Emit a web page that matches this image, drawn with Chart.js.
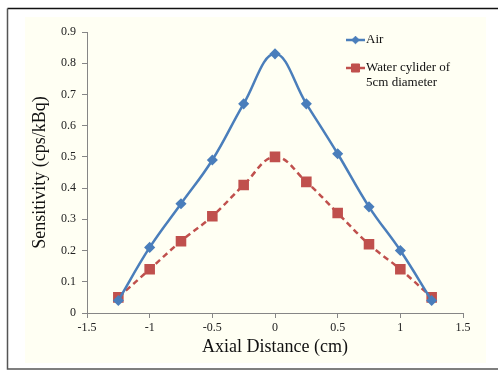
<!DOCTYPE html>
<html>
<head>
<meta charset="utf-8">
<script src="https://cdn.jsdelivr.net/npm/chart.js@4.4.0/dist/chart.umd.min.js"></script>
<style>
  html, body { margin: 0; padding: 0; background: #fff; overflow: hidden; }
  #wrap { width: 498px; height: 371px; position: relative; }
</style>
</head>
<body>
<div id="wrap"><canvas id="sensChart" width="498" height="371"></canvas></div>
<script>
// axial positions (cm)
var distances = [-1.25, -1, -0.75, -0.5, -0.25, 0, 0.25, 0.5, 0.75, 1, 1.25];
// sensitivity (cps/kBq)
var airValues = [0.04, 0.21, 0.35, 0.49, 0.67, 0.83, 0.67, 0.51, 0.34, 0.20, 0.04];
var waterValues = [0.05, 0.14, 0.23, 0.31, 0.41, 0.50, 0.42, 0.32, 0.22, 0.14, 0.05];
var seriesNames = ["Air", ["Water cylider of", "5cm diameter"]];

var serif = "'Liberation Serif', 'Times New Roman', serif";

var toPoints = function(vals) {
  return distances.map(function(d, i) { return { x: d, y: vals[i] }; });
};

//frame (top/left/bottom only, right side is cut off) + cream background
var framePlugin = {
  id: 'frame',
  beforeDraw: function(chart) {
    var ctx = chart.ctx;
    ctx.save();
    ctx.fillStyle = '#fff';
    ctx.fillRect(0, 0, chart.width, chart.height);
    ctx.fillStyle = '#fffff3';
    ctx.fillRect(25, 17, 461, 346);
    ctx.lineWidth = 1.5;
    ctx.strokeStyle = '#111';
    ctx.beginPath();
    ctx.moveTo(7.5, 8.5);
    ctx.lineTo(498, 8.5);
    ctx.stroke();
    ctx.strokeStyle = '#555';
    ctx.beginPath();
    ctx.moveTo(7.5, 8.5);
    ctx.lineTo(7.5, 369);
    ctx.lineTo(498, 369);
    ctx.stroke();
    ctx.restore();
  }
};

//legend inside the plot, like the excel one
var legendPlugin = {
  id: 'insideLegend',
  afterDraw: function(chart) {
    var ctx = chart.ctx;
    var rows = [40, 68];
    ctx.save();
    chart.data.datasets.forEach(function(ds, i) {
      var y = rows[i];
      ctx.strokeStyle = ds.borderColor;
      ctx.lineWidth = 2.5;
      ctx.setLineDash([]);
      ctx.beginPath();
      ctx.moveTo(346, y);
      ctx.lineTo(365, y);
      ctx.stroke();
      ctx.fillStyle = ds.pointBackgroundColor;
      ctx.lineWidth = 1;
      Chart.helpers.drawPoint(ctx, {
        pointStyle: ds.pointStyle,
        radius: ds.pointRadius,
        borderWidth: 1
      }, 355.5, y);
      ctx.fillStyle = '#111';
      ctx.font = '13px ' + serif;
      ctx.textBaseline = 'middle';
      var lines = [].concat(seriesNames[i]);
      lines.forEach(function(t, k) {
        ctx.fillText(t, 366, y + k * 15);
      });
    });
    ctx.restore();
  }
};

var trimNum = function(v) { return String(Math.round(v * 10) / 10); };

var ctx = document.getElementById('sensChart').getContext('2d');
var sensChart = new Chart(ctx, {
  type: 'line',
  data: {
    datasets: [
      {
        label: 'Air',
        data: toPoints(airValues),
        borderColor: '#4a7ebb',
        backgroundColor: '#4a7ebb',
        pointBackgroundColor: '#4a7ebb',
        pointBorderColor: '#4a7ebb',
        pointStyle: 'rectRot',
        pointRadius: 3.8,
        borderWidth: 2.5,
        tension: 0.4
      },
      {
        label: 'Water cylider of 5cm diameter',
        data: toPoints(waterValues),
        borderColor: '#c0504d',
        backgroundColor: '#c0504d',
        pointBackgroundColor: '#c0504d',
        pointBorderColor: '#c0504d',
        pointStyle: 'rect',
        pointRadius: 5.7,
        borderWidth: 2.5,
        borderDash: [6, 4],
        tension: 0.4
      }
    ]
  },
  options: {
    responsive: false,
    animation: false,
    devicePixelRatio: 1,
    layout: { padding: { left: 0, right: 35, top: 32, bottom: 0 } },
    plugins: {
      legend: { display: false },
      tooltip: { enabled: false }
    },
    scales: {
      x: {
        type: 'linear',
        min: -1.5,
        max: 1.5,
        afterFit: function(axis) { axis.height = 58; },
        ticks: {
          stepSize: 0.5,
          padding: 3,
          color: '#222',
          font: { family: serif, size: 12 },
          maxRotation: 0,
          callback: trimNum
        },
        grid: { drawOnChartArea: false, drawTicks: true, tickLength: 5, color: '#868686' },
        border: { color: '#868686', width: 1 },
        title: {
          display: true,
          text: 'Axial Distance (cm)',
          color: '#111',
          font: { family: serif, size: 18 },
          padding: { top: 0, bottom: 13 }
        }
      },
      y: {
        min: 0,
        max: 0.9,
        afterFit: function(axis) { axis.width = 87; },
        ticks: {
          stepSize: 0.1,
          padding: 6,
          color: '#222',
          font: { family: serif, size: 12 },
          callback: trimNum
        },
        grid: { drawOnChartArea: false, drawTicks: true, tickLength: 5, color: '#868686' },
        border: { color: '#868686', width: 1 },
        title: {
          display: true,
          text: 'Sensitivity (cps/kBq)',
          color: '#111',
          font: { family: serif, size: 18 },
          padding: { top: 29, bottom: 0 }
        }
      }
    }
  },
  plugins: [framePlugin, legendPlugin]
});
</script>
</body>
</html>
